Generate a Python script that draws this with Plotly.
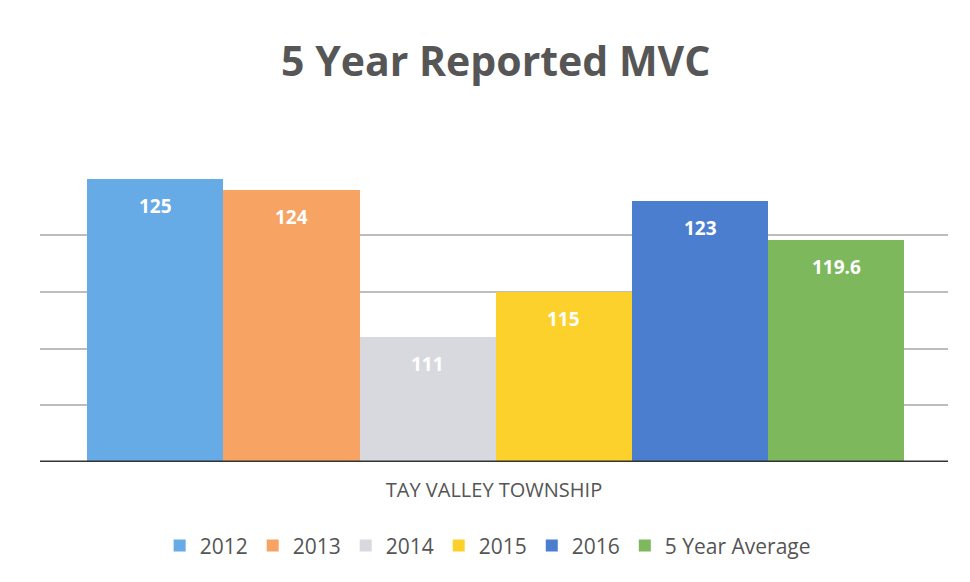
import plotly.graph_objects as go

series = ["2012", "2013", "2014", "2015", "2016", "5 Year Average"]
values = [125, 124, 111, 115, 123, 119.6]
labels = ["125", "124", "111", "115", "123", "119.6"]
colors = ["#66AAE6", "#F6A363", "#D8D9DE", "#FDD12C", "#4B7ECF", "#7DB85C"]
category = "TAY VALLEY TOWNSHIP"
grid_vals = [105, 110, 115, 120]

fig = go.Figure()
for s, v, c in zip(series, values, colors):
    fig.add_trace(go.Bar(x=[s], y=[v], name=s, marker=dict(color=c, line=dict(width=0)),
                         hoverinfo="skip"))

for i, (v, t) in enumerate(zip(values, labels)):
    fig.add_annotation(x=i, y=v, text="<b>%s</b>" % t, showarrow=False, yshift=-27,
                       font=dict(family="Open Sans", size=19, color="white"))

fig.update_layout(
    width=962, height=574,
    paper_bgcolor="white", plot_bgcolor="white",
    barmode="overlay", bargap=0,
    margin=dict(l=32, r=22, t=165, b=120, autoexpand=False),
    title=dict(text="<b>5 Year Reported MVC</b>", x=0.507, xanchor="center", y=0.906, yanchor="middle",
               font=dict(family="Open Sans", size=41, color="#565656")),
    xaxis=dict(type="category", range=[-0.846, 5.82], showticklabels=False, ticks="", showgrid=False,
               zeroline=False, showline=False, automargin=False,
               title=dict(text=category, standoff=20, font=dict(family="Open Sans", size=20, color="#555555"))),
    yaxis=dict(range=[100, 125.5], tickvals=grid_vals, showticklabels=False, ticks="",
               showgrid=True, gridcolor="#BDBDBD", gridwidth=1.5, zeroline=False, showline=False,
               automargin=False),
    legend=dict(orientation="h", x=0.493, xanchor="center", y=-0.29, yanchor="middle",
                font=dict(family="Open Sans", size=21, color="#555555"), itemwidth=30,
                traceorder="normal"),
    showlegend=True,
)
fig.add_shape(type="line", xref="paper", yref="y", x0=0, x1=1, y0=100, y1=100,
              line=dict(color="#333333", width=3), layer="above")

fig.write_html("out.html")
